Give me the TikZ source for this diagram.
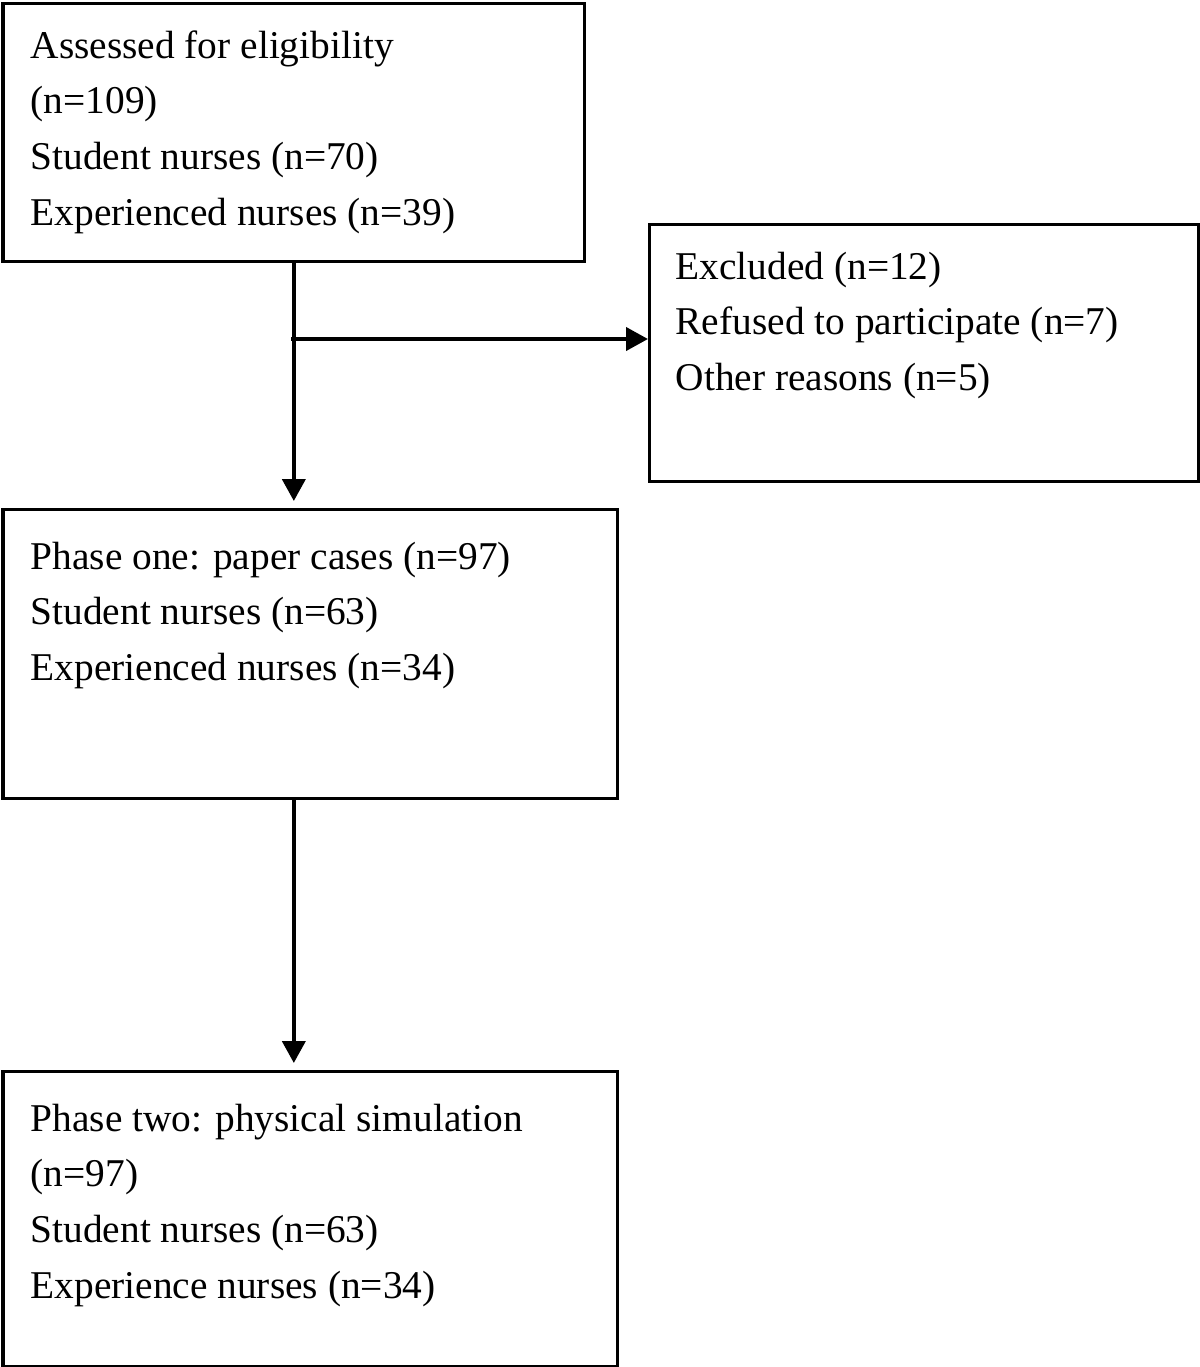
\documentclass[tikz,border=0pt]{standalone}
\usepackage{fontspec}
\setmainfont{Liberation Serif}
\usetikzlibrary{arrows.meta}

\begin{document}
\begin{tikzpicture}[
    box/.style={draw, line width=0.9pt, anchor=north west, inner sep=0pt},
    txt/.style={anchor=base west, inner sep=0pt, font=\fontsize{11.2}{15.9}\selectfont},
    arr/.style={line width=1.15pt, -{Triangle[length=0.22cm,width=0.23cm]}}
  ]
  \useasboundingbox (0,0) rectangle (12,-13.67);

  % Boxes
  \node[box, minimum width=5.815cm, minimum height=2.585cm] (assess) at (0.015,-0.015) {};
  \node[box, minimum width=5.49cm, minimum height=2.57cm] (excluded) at (6.48,-2.23) {};
  \node[box, minimum width=6.145cm, minimum height=2.89cm] (phaseone) at (0.015,-5.08) {};
  \node[box, minimum width=6.145cm, minimum height=2.95cm] (phasetwo) at (0.015,-10.70) {};

  % Box texts
  \node[txt] (assesstxt) at (0.30,-0.58) {\begin{tabular}[t]{@{}l@{}}
    Assessed for eligibility\\ (n=109)\\ Student nurses (n=70)\\ Experienced nurses (n=39)\end{tabular}};
  \node[txt] (excludedtxt) at (6.75,-2.79) {\begin{tabular}[t]{@{}l@{}}
    Excluded (n=12)\\ Refused to participate (n=7)\\ Other reasons (n=5)\end{tabular}};
  \node[txt] (phaseonetxt) at (0.30,-5.69) {\begin{tabular}[t]{@{}l@{}}
    Phase one: paper cases (n=97)\\ Student nurses (n=63)\\ Experienced nurses (n=34)\end{tabular}};
  \node[txt] (phasetwotxt) at (0.30,-11.31) {\begin{tabular}[t]{@{}l@{}}
    Phase two: physical simulation\\ (n=97)\\ Student nurses (n=63)\\ Experience nurses (n=34)\end{tabular}};

  % Arrows
  \coordinate (split) at (2.91,-3.39);
  \draw[arr, shorten >=0.07cm] (assess.south) -- (assess.south |- phaseone.north);
  \draw[arr] (split) -- (split -| excluded.west);
  \draw[arr, shorten >=0.07cm] (assess.south |- phaseone.south) -- (assess.south |- phasetwo.north);

\end{tikzpicture}
\end{document}
